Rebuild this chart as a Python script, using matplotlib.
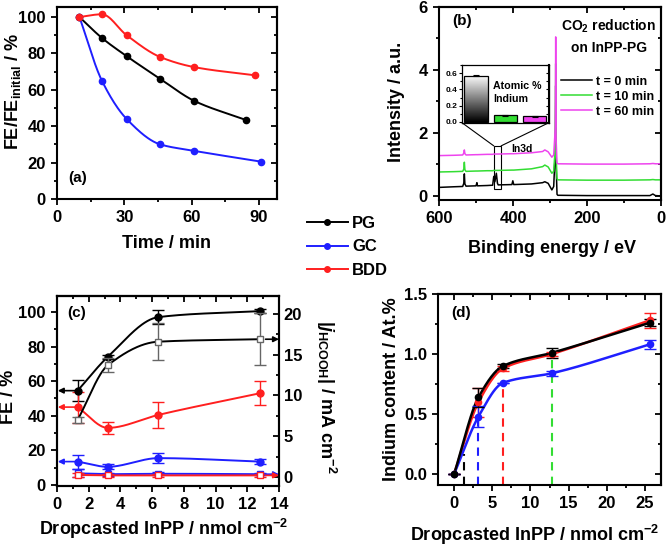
import numpy as np
import matplotlib
matplotlib.use("Agg")
import matplotlib.pyplot as plt
from matplotlib.lines import Line2D
from matplotlib.patches import Rectangle, ConnectionPatch
from matplotlib.ticker import MultipleLocator

plt.rcParams["font.family"] = ["Liberation Sans", "DejaVu Sans"]
plt.rcParams["font.weight"] = "bold"
plt.rcParams["axes.labelweight"] = "bold"
plt.rcParams["mathtext.fontset"] = "custom"
plt.rcParams["mathtext.rm"] = "Liberation Sans:bold"
plt.rcParams["mathtext.it"] = "Liberation Sans:italic:bold"
plt.rcParams["mathtext.bf"] = "Liberation Sans:bold"
plt.rcParams["axes.linewidth"] = 1.5

BLACK = "#000000"
BLUE = "#1f1fff"
RED = "#ff1f1f"
GREEN = "#33dd33"
MAGENTA = "#ee44ee"

# (a) normalised FE vs time
t_pg = [10, 20, 31, 46, 61, 84]
fe_pg = [100, 88.5, 78.5, 66, 54, 43.5]
t_gc = [10, 20, 31, 46, 61, 91]
fe_gc = [100, 65, 44, 30, 26.5, 20.5]
t_bdd = [10, 20, 31, 46, 61, 88]
fe_bdd = [100, 101.5, 90, 78, 72.5, 68]

# (b) XPS survey spectra (binding energy, intensity)
be = [600, 560, 536, 533, 531.5, 530, 527, 500, 497.5, 496, 470, 455, 452, 449, 445, 442,
      440, 403, 400.5, 398, 350, 320, 314, 305, 295, 290, 285.5, 284.6, 283.5, 281, 279,
      200, 100, 30, 22, 15, 0]
spec_t0 = [0.27, 0.29, 0.30, 0.40, 0.70, 0.38, 0.31, 0.32, 0.42, 0.32, 0.33, 0.34, 0.62, 0.45, 0.72, 0.40,
           0.35, 0.36, 0.48, 0.36, 0.38, 0.42, 0.45, 0.40, 0.19, 0.30, 1.5, 3.5, 1.0, 0.05, 0.02,
           0.01, 0.01, 0.01, 0.06, 0.01, 0.0]
spec_t10 = [0.76, 0.77, 0.78, 0.85, 1.07, 0.83, 0.78, 0.79, 0.79, 0.79, 0.80, 0.80, 0.81, 0.81, 0.81, 0.81,
            0.81, 0.82, 0.82, 0.82, 0.86, 0.93, 0.98, 0.92, 0.72, 0.78, 1.6, 4.2, 1.3, 0.55, 0.51,
            0.50, 0.50, 0.51, 0.52, 0.51, 0.51]
spec_t60 = [1.28, 1.29, 1.30, 1.36, 1.46, 1.34, 1.30, 1.31, 1.31, 1.31, 1.32, 1.32, 1.33, 1.33, 1.33, 1.33,
            1.33, 1.34, 1.34, 1.34, 1.37, 1.41, 1.46, 1.40, 1.23, 1.30, 2.2, 5.05, 1.8, 1.05, 1.02,
            1.01, 1.01, 1.02, 1.03, 1.02, 1.02]
spec_labels = ["t = 0 min", "t = 10 min", "t = 60 min"]
inset_vals = [0.57, 0.08, 0.07]
inset_err = [0.005, 0.004, 0.004]

# (c) FE (left) and partial current (right) vs loading
load_c = [1.3, 3.2, 6.4, 12.8]
fe_c_pg = [54.5, 74, 97, 100.5]
fe_c_pg_err = [6, 1, 4, 1]
fe_c_gc = [13.5, 10.5, 15.5, 13.5]
fe_c_gc_err = [4, 1.5, 3, 1.5]
fe_c_bdd = [45, 33, 40.5, 53]
fe_c_bdd_err = [9, 3.5, 7.5, 7]
j_pg = [7.0, 13.7, 16.6, 16.9]
j_pg_err = [0.4, 0.85, 2.3, 3.2]
j_gc = [0.45, 0.35, 0.4, 0.35]
j_gc_err = [0.5, 0.2, 0.2, 0.15]
j_bdd = [0.25, 0.2, 0.2, 0.2]
j_bdd_err = [0.2, 0.15, 0.15, 0.15]

# (d) indium content vs loading
load_d = [0, 3.2, 6.4, 12.8, 25.6]
in_pg = [0, 0.64, 0.90, 1.01, 1.26]
in_pg_err = [0, 0.08, 0.02, 0.04, 0.03]
in_bdd = [0, 0.60, 0.88, 1.00, 1.28]
in_bdd_err = [0, 0.12, 0.02, 0.02, 0.06]
in_gc = [0, 0.48, 0.76, 0.84, 1.08]
in_gc_err = [0, 0.09, 0.0, 0.02, 0.04]
dash_x = [1.3, 3.2, 6.4, 12.8]
dash_top = [0.17, 0.45, 0.72, 1.0]


def pchip(x, y, n=200):
    x = np.asarray(x, float)
    y = np.asarray(y, float)
    h = np.diff(x)
    d = np.diff(y) / h
    m = np.zeros_like(y)
    for k in range(1, len(x) - 1):
        if d[k - 1] * d[k] > 0:
            w1 = 2 * h[k] + h[k - 1]
            w2 = h[k] + 2 * h[k - 1]
            m[k] = (w1 + w2) / (w1 / d[k - 1] + w2 / d[k])
    m[0] = d[0]
    m[-1] = d[-1]
    xs = np.linspace(x[0], x[-1], n)
    idx = np.clip(np.searchsorted(x, xs) - 1, 0, len(x) - 2)
    t = (xs - x[idx]) / h[idx]
    h00 = 2 * t**3 - 3 * t**2 + 1
    h10 = t**3 - 2 * t**2 + t
    h01 = -2 * t**3 + 3 * t**2
    h11 = t**3 - t**2
    ys = h00 * y[idx] + h10 * h[idx] * m[idx] + h01 * y[idx + 1] + h11 * h[idx] * m[idx + 1]
    return xs, ys


def style(ax, xmaj, xmin, ymaj, ymin, right=True, size=12):
    ax.xaxis.set_major_locator(MultipleLocator(xmaj))
    ax.xaxis.set_minor_locator(MultipleLocator(xmin))
    ax.yaxis.set_major_locator(MultipleLocator(ymaj))
    ax.yaxis.set_minor_locator(MultipleLocator(ymin))
    ax.tick_params(which="both", direction="out", width=1.3, labelsize=size)
    ax.tick_params(which="major", length=4.5)
    ax.tick_params(which="minor", length=2.5)
    sx = ax.secondary_xaxis("top")
    sx.xaxis.set_major_locator(MultipleLocator(xmaj))
    sx.xaxis.set_minor_locator(MultipleLocator(xmin))
    sx.tick_params(which="both", direction="in", width=1.3, labeltop=False)
    sx.tick_params(which="major", length=4.5)
    sx.tick_params(which="minor", length=2.5)
    if right:
        sy = ax.secondary_yaxis("right")
        sy.yaxis.set_major_locator(MultipleLocator(ymaj))
        sy.yaxis.set_minor_locator(MultipleLocator(ymin))
        sy.tick_params(which="both", direction="in", width=1.3, labelright=False)
        sy.tick_params(which="major", length=4.5)
        sy.tick_params(which="minor", length=2.5)


fig = plt.figure(figsize=(6.66, 5.48), dpi=100)
W, H = 666.0, 548.0


def add_axes(l, r, t, b):
    return fig.add_axes([l / W, 1 - b / H, (r - l) / W, (b - t) / H])


# ---- (a)
axa = add_axes(57, 277, 7, 199)
for tx, fy, c in [(t_pg, fe_pg, BLACK), (t_gc, fe_gc, BLUE), (t_bdd, fe_bdd, RED)]:
    xs, ys = pchip(tx, fy)
    axa.plot(xs, ys, color=c, lw=1.4)
    axa.plot(tx, fy, "o", color=c, ms=4.5)
axa.set_xlim(0, 98)
axa.set_ylim(0, 105.5)
style(axa, 30, 15, 20, 10)
axa.set_xlabel("Time / min", fontsize=13)
axa.set_ylabel(r"FE/FE$_{\mathregular{initial}}$ / %", fontsize=13)
axa.xaxis.set_label_coords(0.5, -0.19)
axa.yaxis.set_label_coords(-0.155, 0.56)
axa.text(0.05, 0.09, "(a)", transform=axa.transAxes, fontsize=11)

# ---- legend between panels
handles = [Line2D([], [], color=c, marker="o", ms=4, lw=1.4) for c in (BLACK, BLUE, RED)]
fig.legend(handles, ["PG", "GC", "BDD"], loc="center left", bbox_to_anchor=(307 / W, 1 - 247 / H),
           frameon=False, handlelength=2.45, handletextpad=0.25, labelspacing=0.5, borderpad=0,
           borderaxespad=0, prop={"size": 12, "weight": "bold"})

# ---- (b)
axb = add_axes(439, 661, 7, 200)
for sp, c, lab in zip([spec_t0, spec_t10, spec_t60], [BLACK, GREEN, MAGENTA], spec_labels):
    axb.plot(be, sp, color=c, lw=1.1, label=lab)
axb.set_xlim(600, 0)
axb.set_ylim(-0.13, 6)
style(axb, 200, 100, 2, 1)
axb.set_xlabel("Binding energy / eV", fontsize=13)
axb.set_ylabel("Intensity / a.u.", fontsize=13)
axb.xaxis.set_label_coords(0.51, -0.205)
axb.yaxis.set_label_coords(-0.155, 0.51)
axb.text(0.06, 0.93, "(b)", transform=axb.transAxes, fontsize=11, va="center")
axb.text(0.765, 0.85, "CO$_2$ reduction\non InPP-PG", transform=axb.transAxes, fontsize=10,
         ha="center", va="center", linespacing=1.55)
axb.legend(loc="center left", bbox_to_anchor=(0.55, 0.535), frameon=False, handlelength=2.5,
           handletextpad=0.3, labelspacing=0.25, borderpad=0, borderaxespad=0,
           prop={"size": 9, "weight": "bold"})
axb.add_patch(Rectangle((432, 0.22), 20, 1.37, fill=False, ec="black", lw=0.8))
axb.text(376, 1.5, "In3d", fontsize=7.5, ha="center", va="center")

ins = axb.inset_axes([0.104, 0.40, 0.39, 0.30])
bars = ins.bar(range(3), inset_vals, width=0.8, yerr=inset_err, capsize=2,
               color=["none", GREEN, MAGENTA], edgecolor="black", linewidth=0.9, zorder=3,
               error_kw={"elinewidth": 0.8, "capthick": 0.8})
grad = np.linspace(0, 1, 100).reshape(-1, 1)
b0 = bars[0]
im = ins.imshow(grad, cmap="gray", origin="lower", aspect="auto", zorder=2,
                extent=(b0.get_x(), b0.get_x() + b0.get_width(), 0, b0.get_height()))
im.set_clip_path(b0)
ins.set_xlim(-0.48, 2.48)
ins.set_ylim(-0.01, 0.70)
ins.set_xticks([])
ins.yaxis.set_major_locator(MultipleLocator(0.2))
ins.yaxis.set_minor_locator(MultipleLocator(0.1))
ins.tick_params(which="both", direction="out", labelsize=6, width=0.8, pad=1)
ins.tick_params(which="major", length=2.5)
ins.tick_params(which="minor", length=1.5)
sy = ins.secondary_yaxis("right")
sy.yaxis.set_major_locator(MultipleLocator(0.2))
sy.yaxis.set_minor_locator(MultipleLocator(0.1))
sy.tick_params(which="both", direction="in", labelright=False, width=0.8, length=2)
for s in ins.spines.values():
    s.set_linewidth(0.9)
ins.text(0.57, 0.36, "Atomic %\nIndium", fontsize=7.7, ha="left", va="center", linespacing=1.4)
for xa, xb in [(0, 452), (1, 432)]:
    fig.add_artist(ConnectionPatch(xyA=(xa, 0), coordsA=ins.transAxes, xyB=(xb, 1.59),
                                   coordsB=axb.transData, color="black", lw=0.8))

# ---- (c)
axc = add_axes(57, 279, 296, 486)
axc2 = axc.twinx()
for y, e, c in [(fe_c_pg, fe_c_pg_err, BLACK), (fe_c_gc, fe_c_gc_err, BLUE), (fe_c_bdd, fe_c_bdd_err, RED)]:
    xs, ys = pchip(load_c, y)
    axc.plot(xs, ys, color=c, lw=1.4)
    axc.errorbar(load_c, y, yerr=e, fmt="o", color=c, ms=5, capsize=4, elinewidth=1, capthick=1)
    axc.annotate("", xy=(0.05, y[0]), xytext=(load_c[0] - 0.1, y[0]),
                 arrowprops=dict(arrowstyle="-|>", color=c, lw=1.2, mutation_scale=8,
                                 shrinkA=0, shrinkB=0))
for y, e, c, ec in [(j_pg, j_pg_err, BLACK, "#666666"), (j_gc, j_gc_err, BLUE, BLUE), (j_bdd, j_bdd_err, RED, RED)]:
    xs, ys = pchip(load_c, y)
    axc2.plot(xs, ys, color=c, lw=1.4)
    axc2.errorbar(load_c, y, yerr=e, fmt="s", color=ec, mfc="white", mec=ec, ms=5, capsize=4,
                  elinewidth=1, capthick=1)
    axc2.annotate("", xy=(14.0, y[-1]), xytext=(13.15, y[-1]),
                  arrowprops=dict(arrowstyle="-|>", color=c, lw=1.2, mutation_scale=8,
                                  shrinkA=0, shrinkB=0), annotation_clip=False)
axc.set_xlim(0, 14)
axc.set_ylim(-0.6, 109.2)
axc2.set_ylim(-1.1, 22.2)
style(axc, 2, 1, 20, 10, right=False)
axc2.yaxis.set_major_locator(MultipleLocator(5))
axc2.yaxis.set_minor_locator(MultipleLocator(2.5))
axc2.tick_params(which="both", direction="in", width=1.3, labelsize=12)
axc2.tick_params(which="major", length=4.5)
axc2.tick_params(which="minor", length=2.5)
axc.set_xlabel(r"Dropcasted InPP / nmol cm$^{\mathregular{-2}}$", fontsize=13)
axc.set_ylabel("FE / %", fontsize=13)
axc2.set_ylabel(r"|$j_{\mathregular{HCOOH}}$| / mA cm$^{\mathregular{-2}}$", fontsize=13, rotation=270)
axc.xaxis.set_label_coords(0.48, -0.165)
axc.yaxis.set_label_coords(-0.18, 0.47)
axc2.yaxis.set_label_coords(1.266, 0.47)
axc.text(0.045, 0.91, "(c)", transform=axc.transAxes, fontsize=11, va="center")

# ---- (d)
axd = add_axes(438, 661, 294, 485)
for xd, yt, c in zip(dash_x, dash_top, [BLACK, BLUE, RED, GREEN]):
    axd.plot([xd, xd], [-0.09, yt], color=c, lw=1.5, ls=(0, (4, 3)), zorder=1)
for y, e, c in [(in_bdd, in_bdd_err, RED), (in_gc, in_gc_err, BLUE), (in_pg, in_pg_err, BLACK)]:
    xs, ys = pchip(load_d, y)
    axd.plot(xs, ys, color=c, lw=1.8, zorder=2)
    axd.errorbar(load_d, y, yerr=e, fmt="o", color=c, ms=4.5, capsize=4, elinewidth=1, capthick=1, zorder=3)
axd.set_xlim(-2.1, 27.1)
axd.set_ylim(-0.09, 1.5)
style(axd, 5, 2.5, 0.5, 0.25)
axd.set_xlabel(r"Dropcasted InPP / nmol cm$^{\mathregular{-2}}$", fontsize=13)
axd.set_ylabel("Indium content / At.%", fontsize=13)
axd.xaxis.set_label_coords(0.435, -0.2)
axd.yaxis.set_label_coords(-0.17, 0.50)
axd.text(0.06, 0.9, "(d)", transform=axd.transAxes, fontsize=11, va="center")

fig.savefig("out.png", dpi=100)
